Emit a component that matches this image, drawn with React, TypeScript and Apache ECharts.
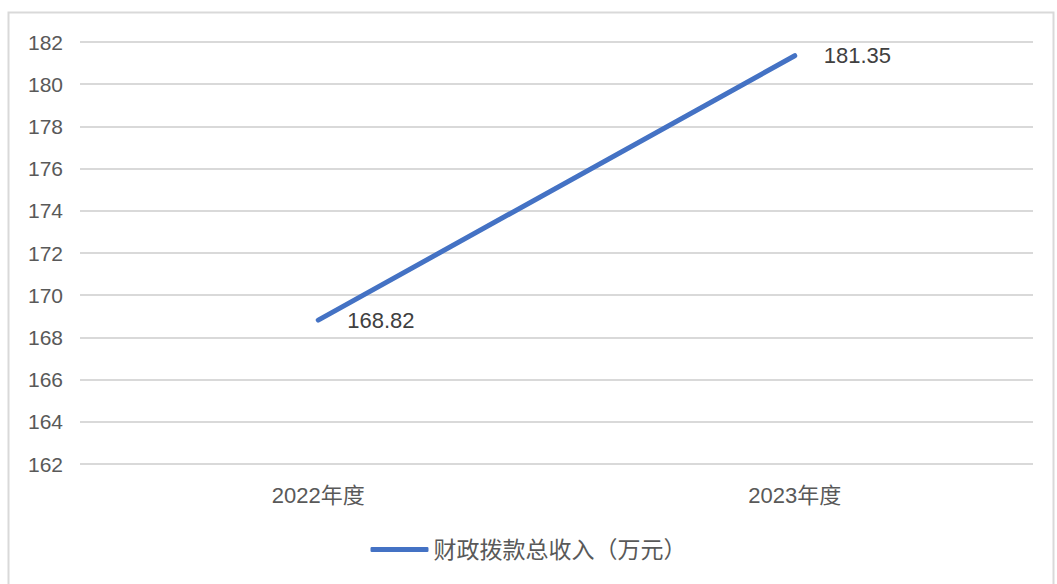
import React, { useEffect, useRef } from "react";
import * as echarts from "echarts";

const categories = ["2022年度", "2023年度"];
const seriesName = "财政拨款总收入（万元）";
const values = [168.82, 181.35];
const yMin = 162;
const yMax = 182;
const yStep = 2;

export default function App() {
  const ref = useRef<HTMLDivElement>(null);
  useEffect(() => {
    if (!ref.current) return;
    const chart = echarts.init(ref.current, null, { renderer: "svg" });
    const font = "'Liberation Sans', 'Noto Sans CJK SC', sans-serif";
    chart.setOption({
      animation: false,
      backgroundColor: "#ffffff",
      graphic: [
        {
          type: "rect",
          shape: { x: 8.5, y: 12.5, width: 1045, height: 600 },
          style: { fill: "none", stroke: "#d9d9d9", lineWidth: 2 },
          silent: true,
        },
      ],
      grid: { left: 80, right: 24, top: 42, bottom: 120, containLabel: false },
      xAxis: {
        type: "category",
        data: categories,
        boundaryGap: true,
        axisLine: { show: false },
        axisTick: { show: false },
        axisLabel: { color: "#595959", fontSize: 22, fontFamily: font, margin: 20 },
      },
      yAxis: {
        type: "value",
        min: yMin,
        max: yMax,
        interval: yStep,
        axisLine: { show: false },
        axisTick: { show: false },
        axisLabel: { color: "#595959", fontSize: 21, fontFamily: font, margin: 17 },
        splitLine: { lineStyle: { color: "#d9d9d9", width: 2 } },
      },
      legend: {
        bottom: 18,
        left: "center",
        icon: "roundRect",
        itemWidth: 58,
        itemHeight: 5,
        itemStyle: { color: "#4472C4", opacity: 1 },
        textStyle: { color: "#595959", fontSize: 23, fontFamily: font },
        data: [seriesName],
      },
      series: [
        {
          name: seriesName,
          type: "line",
          data: values,
          symbol: "circle",
          symbolSize: 0.01,
          showSymbol: true,
          itemStyle: { color: "#4472C4" },
          lineStyle: { color: "#4472C4", width: 5, cap: "round" },
          label: {
            show: true,
            position: "right",
            distance: 29,
            color: "#404040",
            fontSize: 22,
            fontFamily: font,
            formatter: (p: any) => Number(p.value).toFixed(2),
          },
        },
      ],
    });
    return () => chart.dispose();
  }, []);
  return (
    <div
      ref={ref}
      style={{ position: "fixed", left: 0, top: 0, width: 1057, height: 584 }}
    />
  );
}
